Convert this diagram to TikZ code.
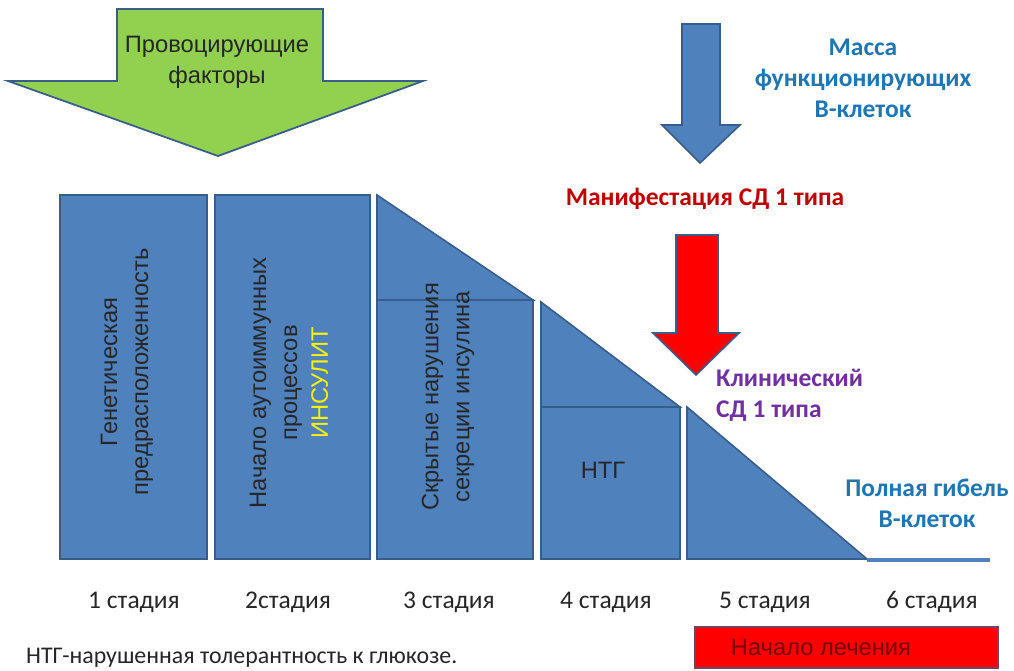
\documentclass[tikz,border=0pt]{standalone}
\usepackage{fontspec}
\setmainfont{Carlito}
\newfontfamily\arialfont{Liberation Sans}
\usepackage{xcolor}
\usepackage{tikz}
\usetikzlibrary{positioning}
\definecolor{barblue}{RGB}{79, 129, 189}
\definecolor{edgeblue}{RGB}{56, 93, 138}
\definecolor{provgreen}{RGB}{146, 208, 80}
\definecolor{massblue}{RGB}{31, 118, 178}
\definecolor{manifred}{RGB}{192, 0, 0}
\definecolor{clinpurple}{RGB}{112, 48, 160}
\definecolor{treatred}{RGB}{255, 0, 0}
\definecolor{treattext}{RGB}{120, 0, 0}
\definecolor{stagegray}{RGB}{38, 38, 38}
\tikzset{
  barshape/.style={fill=barblue, draw=edgeblue, line width=0.9pt, line join=miter},
  bartext/.style={rotate=90, align=center, text=black!85, font=\arialfont\fontsize{13.5}{17.6}\selectfont},
  stagelabel/.style={text=stagegray, font=\fontsize{14.5}{17}\selectfont},
  boldlabel/.style={font=\bfseries\fontsize{14.5}{17.6}\selectfont, align=center}
}
\begin{document}
\begin{tikzpicture}[x=0.02cm, y=-0.02cm]
            \clip (0,0) rectangle (1014,670);
            \fill[white] (0,0) rectangle (1014,670);

            \draw[fill=provgreen, draw=edgeblue, line width=1pt] (117,9) -- (323,9) -- (323,81) -- (423,81) -- (218,156) -- (8,81) -- (117,81) -- cycle;
            \node[align=center, font=\arialfont\fontsize{13.5}{17.6}\selectfont, text=black!85] (prov) at (217,62) {Провоцирующие\\факторы};

            \draw[barshape] (682,24) -- (720,24) -- (720,125) -- (740,125) -- (700,163) -- (662,125) -- (682,125) -- cycle;
            \node[boldlabel, text=massblue] (mass) at (863,78) {Масса\\функционирующих\\В-клеток};

            \node[boldlabel, text=manifred] (manif) at (705,199) {Манифестация СД 1 типа};
            \draw[fill=treatred, draw=edgeblue, line width=0.9pt] (676,235) -- (718,235) -- (718,333) -- (739,333) -- (696,375) -- (653,333) -- (676,333) -- cycle;
            \node[boldlabel, text=clinpurple, align=left, anchor=west] (clin) at (710,395) {Клинический\\СД 1 типа};

            \draw[barshape] (60,195) rectangle (207,559);
            \draw[barshape] (215,195) rectangle (370,559);
            \draw[barshape] (377,300) rectangle (533,559);
            \draw[barshape] (377,195) -- (533,300) -- (377,300) -- cycle;
            \draw[barshape] (541,407) rectangle (680,559);
            \draw[barshape] (541,302) -- (680,407) -- (541,407) -- cycle;
            \draw[barshape] (687,407) -- (867,559) -- (687,559) -- cycle;
            \draw[barblue, line width=2.2pt] (867,560) -- (990,560);

            \node[bartext] (gen) at (127,372) {Генетическая\\предрасположенность};
            \node[bartext] (auto) at (289,383) {Начало аутоиммунных\\процессов\\{\color{yellow}ИНСУЛИТ}};
            \node[bartext] (hidden) at (448,397) {Скрытые нарушения\\секреции инсулина};
            \node[text=black!85, font=\arialfont\fontsize{13.5}{16}\selectfont] (ntg) at (603,470) {НТГ};

            \node[boldlabel, text=massblue] (death) at (927,503) {Полная гибель\\В-клеток};

            \foreach \sx/\stxt [count=\i] in {134/1 стадия, 288/2стадия, 449/3 стадия, 606/4 стадия, 765/5 стадия, 932/6 стадия}
              \node[stagelabel] (st\i) at (\sx,602) {\stxt};

            \draw[fill=treatred, draw=edgeblue!70!red, line width=1pt] (695,627) rectangle (998,668);
            \node[text=treattext, font=\arialfont\fontsize{13.5}{16}\selectfont] (treat) at (821,647) {Начало лечения};

            \node[anchor=west, text=stagegray, font=\fontsize{13.6}{15}\selectfont] (note) at (20,658) {НТГ-нарушенная толерантность к глюкозе.};
        \end{tikzpicture}
\end{document}
